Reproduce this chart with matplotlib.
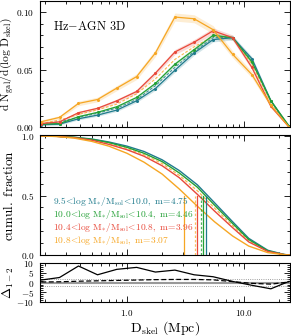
import numpy as np
import matplotlib
matplotlib.use('Agg')
import matplotlib.pyplot as plt
from matplotlib.ticker import FixedLocator, FixedFormatter, MultipleLocator, NullFormatter, LogLocator

plt.rcParams['mathtext.fontset'] = 'cm'
plt.rcParams['font.family'] = ['DejaVu Serif']

# ---------------- data ----------------
d_bins = [0.185, 0.265, 0.385, 0.56, 0.82, 1.21, 1.75, 2.57, 3.75, 5.45, 8.0, 11.7, 17.0, 24.3]

hist_teal = [0.002, 0.0025, 0.0072, 0.0104, 0.0148, 0.0229, 0.0336, 0.0496, 0.0646, 0.0763, 0.078, 0.0597, 0.0229, 0.0]
hist_green = [0.0025, 0.003, 0.009, 0.0128, 0.0177, 0.0258, 0.038, 0.0548, 0.0675, 0.080, 0.078, 0.0568, 0.0229, 0.001]
hist_red = [0.003, 0.0045, 0.0125, 0.0163, 0.0229, 0.031, 0.047, 0.0655, 0.074, 0.084, 0.078, 0.052, 0.018, 0.0]
hist_orange = [0.0046, 0.0084, 0.0206, 0.024, 0.034, 0.044, 0.0646, 0.096, 0.0945, 0.085, 0.0635, 0.0458, 0.019, 0.0]
err_teal = [0.0008, 0.0008, 0.001, 0.001, 0.0012, 0.0014, 0.0016, 0.0018, 0.002, 0.002, 0.002, 0.0018, 0.0012, 0.0005]
err_green = [0.0008, 0.0008, 0.001, 0.001, 0.0012, 0.0014, 0.0016, 0.0018, 0.002, 0.002, 0.002, 0.0018, 0.0012, 0.0005]
err_red = [0.001, 0.001, 0.0012, 0.0013, 0.0015, 0.0017, 0.002, 0.0022, 0.0024, 0.0025, 0.0024, 0.002, 0.0013, 0.0005]
err_orange = [0.0015, 0.0015, 0.002, 0.002, 0.0022, 0.0025, 0.003, 0.0035, 0.0035, 0.0035, 0.003, 0.0028, 0.002, 0.001]

hist_dash_orange = [0.003, 0.006, 0.011, 0.015, 0.020, 0.029, 0.042, 0.059, 0.070, 0.079, 0.078, 0.055, 0.021, 0.0]
hist_dash_teal = [0.0025, 0.0045, 0.0085, 0.012, 0.0165, 0.024, 0.036, 0.052, 0.066, 0.078, 0.078, 0.058, 0.023, 0.0]

cum_d = [0.18, 0.25, 0.35, 0.5, 0.7, 1.0, 1.4, 2.0, 2.8, 4.0, 5.6, 8.0, 11.0, 16.0, 22.0, 24.7]
cum_teal = [1.0, 0.998, 0.99, 0.975, 0.95, 0.915, 0.87, 0.80, 0.71, 0.59, 0.44, 0.28, 0.14, 0.04, 0.005, 0.0]
cum_green = [1.0, 0.998, 0.99, 0.972, 0.945, 0.905, 0.855, 0.785, 0.69, 0.57, 0.42, 0.265, 0.13, 0.035, 0.004, 0.0]
cum_red = [1.0, 0.997, 0.987, 0.965, 0.93, 0.885, 0.83, 0.75, 0.65, 0.51, 0.37, 0.23, 0.11, 0.03, 0.004, 0.0]
cum_orange = [1.0, 0.996, 0.983, 0.955, 0.915, 0.855, 0.78, 0.68, 0.555, 0.41, 0.28, 0.16, 0.075, 0.02, 0.003, 0.0]
cum_dash = [1.0, 0.997, 0.988, 0.968, 0.937, 0.895, 0.843, 0.768, 0.67, 0.54, 0.395, 0.248, 0.12, 0.032, 0.004, 0.0]

medians = [4.75, 4.46, 3.96, 3.07]
medians_dashed = [3.85, 4.30]

delta_solid = [1.3, 2.6, 8.5, 4.0, 6.8, 7.8, 5.4, 6.4, 4.0, 3.0, 0.6, -1.4, -3.2, 0.6]
delta_dashed = [0.3, 0.4, 0.7, 0.9, 1.1, 1.3, 1.5, 1.6, 1.6, 1.4, 0.5, -0.4, -0.8, 0.3]

labels = [r'$\mathrm{9.5}\!<\!\mathrm{log\ M_{*}/M_{sol}}\!<\!\mathrm{10.0,\ m}\!=\!\mathrm{4.75}$',
          r'$\mathrm{10.0}\!<\!\mathrm{log\ M_{*}/M_{sol}}\!<\!\mathrm{10.4,\ m}\!=\!\mathrm{4.46}$',
          r'$\mathrm{10.4}\!<\!\mathrm{log\ M_{*}/M_{sol}}\!<\!\mathrm{10.8,\ m}\!=\!\mathrm{3.96}$',
          r'$\mathrm{10.8}\!<\!\mathrm{log\ M_{*}/M_{sol},\ m}\!=\!\mathrm{3.07}$']

c_teal, c_green, c_red, c_orange = '#1f7b8c', '#23a035', '#e8493a', '#f6a623'
colors = [c_teal, c_green, c_red, c_orange]

# ---------------- figure ----------------
fig = plt.figure(figsize=(2.91, 3.36), dpi=100)
L, W = 0.137, 0.859
ax1 = fig.add_axes([L, 0.622, W, 0.375])
ax2 = fig.add_axes([L, 0.241, W, 0.357])
ax3 = fig.add_axes([L, 0.101, W, 0.116])

hists = [hist_teal, hist_green, hist_red, hist_orange]
errs = [err_teal, err_green, err_red, err_orange]
x = np.array(d_bins)
for h, e, c in zip(hists[::-1], errs[::-1], colors[::-1]):
    h = np.array(h); e = np.array(e)
    ax1.fill_between(x, h - e, h + e, color=c, alpha=0.2, lw=0)
ax1.plot(x, hist_dash_orange, color=c_orange, lw=0.8, ls=(0, (2.5, 1.5)), alpha=0.8)
ax1.plot(x, hist_dash_teal, color=c_teal, lw=0.8, ls=(0, (2.5, 1.5)), alpha=0.8)
for h, c in zip(hists, colors):
    ax1.plot(x, h, color=c, lw=0.9, marker='o', ms=2.2, mew=0)

cd = np.array(cum_d)
cums = [cum_teal, cum_green, cum_red, cum_orange]
ax2.plot(cd, cum_dash, color=c_orange, lw=0.9, ls=(0, (2.5, 1.5)), alpha=0.8)
for cu, c in zip(cums, colors):
    ax2.plot(cd, cu, color=c, lw=1.0)
for m, c in zip(medians, colors):
    ax2.plot([m, m], [0, 0.5], color=c, lw=0.9)
ax2.plot([medians_dashed[0]] * 2, [0, 0.5], color=c_orange, lw=0.9, ls=(0, (2, 1.5)), alpha=0.7)
ax2.plot([medians_dashed[1]] * 2, [0, 0.5], color=c_green, lw=0.9, ls=(0, (2, 1.5)), alpha=0.8)

ypos = [0.45, 0.335, 0.232, 0.117]
for lab, c, yp in zip(labels, colors, ypos):
    ax2.text(0.052, yp, lab, transform=ax2.transAxes, color=c, fontsize=6.8, va='center', ha='left')

ax3.axhline(0, color='0.6', lw=1.5)
ax3.axhline(2, color='0.5', lw=0.6, ls=':')
ax3.axhline(-2, color='0.5', lw=0.6, ls=':')
ax3.plot(x, delta_solid, color='k', lw=0.9)
ax3.plot(x, delta_dashed, color='k', lw=0.9, ls=(0, (4, 2)))

ax1.text(0.052, 0.80, r'$\mathrm{Hz\!-\!AGN\ 3D}$', transform=ax1.transAxes, fontsize=8.8, va='center')

for ax in (ax1, ax2, ax3):
    ax.set_xscale('log')
    ax.set_xlim(0.18, 24.7)
    ax.xaxis.set_major_locator(FixedLocator([1.0, 10.0]))
    ax.xaxis.set_minor_locator(LogLocator(base=10, subs=np.arange(2, 10)))
    ax.xaxis.set_minor_formatter(NullFormatter())
    ax.tick_params(which='both', direction='in', top=True, right=True, width=0.6)
    ax.tick_params(which='major', length=4)
    ax.tick_params(which='minor', length=2)
    for s in ax.spines.values():
        s.set_linewidth(0.8)

ax1.xaxis.set_major_formatter(NullFormatter())
ax2.xaxis.set_major_formatter(NullFormatter())
ax3.xaxis.set_major_formatter(FixedFormatter([r'$1.0$', r'$10.0$']))
ax3.tick_params(axis='x', labelsize=6.5, pad=4)

ax1.set_ylim(0, 0.11)
ax1.yaxis.set_major_locator(FixedLocator([0.0, 0.05, 0.10]))
ax1.yaxis.set_major_formatter(FixedFormatter([r'$0.00$', r'$0.05$', r'$0.10$']))
ax1.yaxis.set_minor_locator(MultipleLocator(0.01))

ax2.set_ylim(0, 1.008)
ax2.yaxis.set_major_locator(FixedLocator([0.0, 0.5, 1.0]))
ax2.yaxis.set_major_formatter(FixedFormatter([r'$0.0$', r'$0.5$', r'$1.0$']))
ax2.yaxis.set_minor_locator(MultipleLocator(0.1))

ax3.set_ylim(-10, 10)
ax3.yaxis.set_major_locator(FixedLocator([-10, -5, 0, 5, 10]))
ax3.yaxis.set_major_formatter(FixedFormatter([r'$-10$', r'$-5$', r'$0$', r'$5$', r'$10$']))
ax3.yaxis.set_minor_locator(MultipleLocator(1))

for ax in (ax1, ax2, ax3):
    ax.tick_params(axis='y', labelsize=6.7, pad=4)

ax1.set_ylabel(r'$\mathrm{d\ N_{gal}/d(log\ D_{skel})}$', fontsize=8.3)
ax2.set_ylabel(r'$\mathrm{cumul.\ fraction}$', fontsize=9.5)
ax3.set_ylabel(r'$\Delta_{1-2}$', fontsize=9.5)
for ax in (ax1, ax2, ax3):
    ax.yaxis.set_label_coords(-0.094, 0.5)
ax3.set_xlabel(r'$\mathrm{D_{skel}\ (Mpc)}$', fontsize=10, labelpad=1)

fig.savefig('out.png', dpi=100)
